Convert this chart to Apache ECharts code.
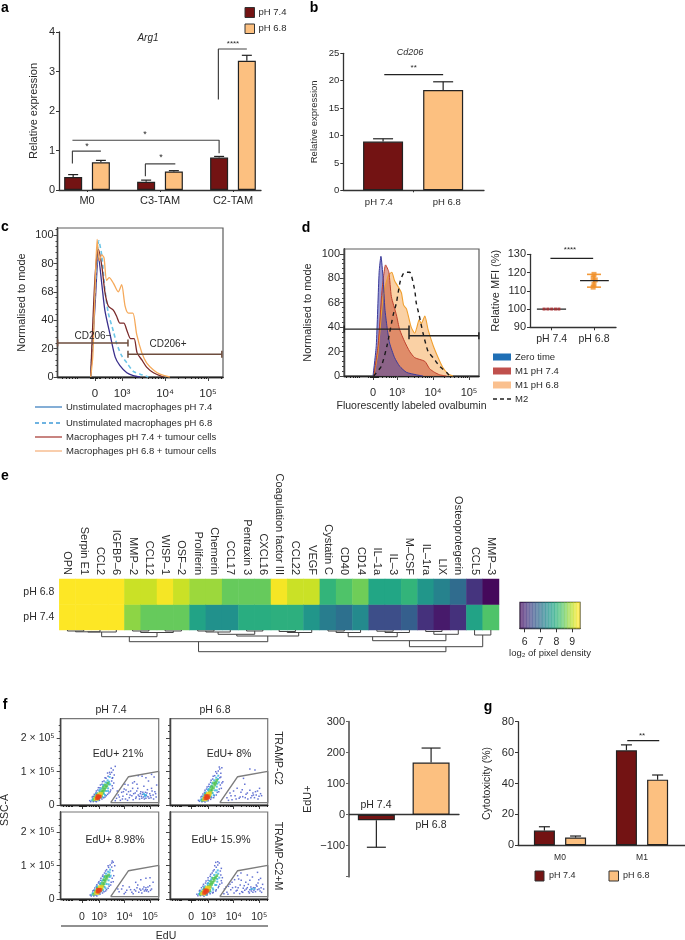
<!DOCTYPE html>
<html><head><meta charset="utf-8">
<style>html,body{margin:0;padding:0;background:#fff}#c{width:685px;height:940px}</style>
<script src="https://cdn.jsdelivr.net/npm/echarts@6/dist/echarts.min.js"></script>
</head><body><div id="c"></div>
<script>
// ---------- DATA ----------
const argCategories=['M0','C3-TAM','C2-TAM'];
const argPh74=[0.33,0.21,0.82];
const argPh68=[0.70,0.47,3.27];
const argPh74Err=[0.39,0.25,0.85];
const argPh68Err=[0.75,0.49,3.41];
const cd206Categories=['pH 7.4','pH 6.8'];
const cd206Values=[8.9,18.3];
const cd206Err=[9.4,19.8];
const cUnstim74=[[-.10,0],[0,50],[.08,85],[.16,65],[.23,47],[.35,30],[.47,14],[.58,8],[.74,3],[.89,1],[1.05,0]];
const cUnstim68=[[-.10,0],[0,60],[.09,96],[.16,85],[.23,62],[.31,45],[.43,32],[.50,24],[.62,15],[.74,10],[.89,4],[1.05,2],[1.24,0]];
const cTumour74=[[-.10,0],[0,70],[.08,90],[.16,78],[.23,60],[.31,50],[.43,47],[.50,43],[.58,38],[.67,38],[.74,33],[.83,27],[.91,27],[.98,17],[1.09,12],[1.20,7],[1.36,3],[1.59,0]];
const cTumour68=[[-.10,0],[-.05,15],[0,60],[.05,97],[.10,82],[.16,86],[.21,84],[.27,68],[.33,70],[.43,66],[.54,60],[.62,65],[.70,50],[.78,45],[.88,45],[.97,30],[1.09,17],[1.20,10],[1.36,5],[1.51,2],[1.74,0]];
const dZero=[[0,0],[.09,25],[.17,85],[.22,98],[.28,80],[.33,55],[.39,40],[.46,27],[.60,15],[.74,8],[.93,3],[1.20,1],[1.39,0]];
const dM174=[[.02,0],[.14,25],[.25,70],[.35,91],[.44,85],[.51,65],[.65,50],[.74,38],[.88,28],[1.02,20],[1.16,15],[1.44,12],[1.57,6],[1.71,3],[1.85,1],[2.04,0]];
const dM168=[[.02,0],[.14,20],[.28,65],[.42,82],[.52,85],[.60,78],[.72,72],[.79,68],[.85,58],[.93,55],[1.06,40],[1.16,35],[1.22,40],[1.28,46],[1.34,43],[1.44,49],[1.53,38],[1.67,25],[1.81,15],[1.94,7],[2.08,2],[2.22,0]];
const dM2=[[.02,0],[.23,8],[.39,25],[.56,50],[.65,60],[.76,78],[.88,85],[1.02,85],[1.16,70],[1.20,60],[1.28,50],[1.39,35],[1.53,20],[1.67,15],[1.85,8],[2.04,3],[2.13,0]];
const mfiPh74=[[.82,100],[.91,100],[1,100],[1.09,100],[1.17,100]];
const mfiPh68=[[2,119],[1.98,117],[2.03,116],[2,113.5],[1.98,112]];
const heatGenes=['OPN','Serpin E1','CCL2','IGFBP–6','MMP–2','CCL12','WISP–1','OSF–2','Proliferin','Chemerin','CCL17','Pentraxin 3','CXCL16','Coagulation factor III','CCL22','VEGF','Cystatin C','CD40','CD14','IL–1a','IL–3','M–CSF','IL–1ra','LIX','Osteoprotegerin','CCL5','MMP–3'];
const heatRows=['pH 7.4','pH 6.8'];
const heatPh68=[9.4,9.4,9.4,9.4,9.1,9.1,9.35,9.1,8.83,8.83,8.5,8.5,8.5,9.35,9.1,9.1,8.07,8.34,8.56,7.84,7.84,8.07,7.58,7.27,6.93,6.17,5.68];
const heatPh74=[9.4,9.4,9.4,9.4,8.75,8.5,8.5,8.5,7.8,7.5,7.5,7.96,7.96,8.0,8.0,7.58,7.2,7.0,7.39,6.5,6.5,6.74,6.13,5.87,6.13,7.8,8.34];
const colorbarSteps=[5.8,6.0,6.2,6.4,6.6,6.8,7.0,7.2,7.4,7.6,7.8,8.0,8.2,8.4,8.6,8.8,9.0,9.2,9.4];
// dendrogram merges: left column, left height, right column, right height, merge height
const dendroMerges=[[0,0,1,0,1],[.5,1,2,0,1.8],[1.25,1.8,3,0,2],[4,0,5,0,1],[6,0,7,0,1],[4.5,1,6.5,1,2.5],[2.1,2,5.5,2.5,6.7],
[8,0,9,0,1],[8.5,1,10,0,2],[11,0,12,0,1],[9.25,2,11.5,1,4.3],[13,0,14,0,1.5],[13.5,1.5,15,0,2.5],[10.4,4.3,14.2,2.5,6],[3.8,6.7,12.3,6,11.7],
[16,0,17,0,1],[16.5,1,18,0,2.5],[19,0,20,0,1.2],[19.5,1.2,21,0,2.5],[17.24,2.5,20.25,2.5,6.7],[22,0,23,0,1.5],[22.5,1.5,24,0,4.3],[18.74,6.7,23.24,4.3,10.7],
[25,0,26,0,5],[21,10.7,25.5,5,16.7],[8.05,11.7,23.24,16.7,21.7]];
const edUGate=[[1.12,.07],[1.82,.85],[3,1.01],[3,.07],[1.12,.07]];
// flow events: channel, SSC (x 10^5), density level
const flowC2Ph74=[[.4,.24,0],[.48,.32,0],[.56,.42,0],[.64,.52,0],[.72,.6,0],[.8,.7,0],[.9,.82,0],[1,.96,0],[1.14,1.1,0],[.56,.1,0],[.68,.14,0],[.78,.18,0],[.9,.24,0],[1,.32,0],[1.1,.4,0],[1.2,.5,0],[1.24,.66,0],[1.18,.8,0],[1.3,.13,0],[1.38,.42,0],[1.46,.24,0],[1.58,.18,0],[1.62,.4,0],[1.68,.62,0],[1.78,.14,0],[1.82,.4,0],[1.88,.3,0],[1.98,.5,0],[2.02,.34,0],[2.1,.2,0],[2.14,.42,0],[2.24,.26,0],[2.28,.34,0],[2.34,.2,0],[2.38,.38,0],[2.44,.18,0],[2.54,.36,0],[2.62,.2,0],[2.68,.28,0],[2.74,.42,0],[2.8,.18,0],[2.88,.34,0],[2.92,.6,0],[2.5,.82,0],[2.2,.88,0],[2.72,.92,0],[1.98,.66,0],[.3,.13,0],[.34,.1,0],[.44,.1,0],[.52,.12,0],[.44,.26,0],[.54,.36,0],[.62,.45,0],[.7,.52,0],[.78,.62,0],[.86,.72,0],[.94,.8,0],[1.02,.86,0],[1.1,.92,0],[1.16,.98,0],[1.22,1.05,0],[1.3,1.16,0],[1.2,.82,0],[1.16,.72,0],[1.18,.58,0],[1.12,.45,0],[1.05,.36,0],[.95,.28,0],[.85,.22,0],[1.08,.98,0],[1.26,.9,0],[1.35,.2,0],[1.42,.3,0],[1.5,.14,0],[1.55,.38,0],[1.6,.26,0],[1.65,.48,0],[1.7,.18,0],[1.75,.32,0],[1.8,.6,0],[1.85,.22,0],[1.9,.42,0],[1.95,.28,0],[2,.16,0],[2.05,.7,0],[2.08,.36,0],[2.12,.24,0],[2.18,.5,0],[2.2,.3,0],[2.25,.18,0],[2.3,.4,0],[2.32,.26,0],[2.36,.32,0],[2.4,.24,0],[2.42,.56,0],[2.45,.3,0],[2.48,.38,0],[2.5,.2,0],[2.52,.28,0],[2.56,.46,0],[2.58,.25,0],[2.6,.72,0],[2.65,.34,0],[2.7,.22,0],[2.72,.5,0],[2.78,.3,0],[2.82,.84,0],[2.85,.4,0],[2.9,.24,0],[1.72,.45,0],[2.15,.62,0],[2.35,.86,0],[2.46,.26,1],[2.42,.33,1],[2.5,.3,1],[1.05,.62,1],[.98,.66,1],[1.02,.42,1],[.9,.3,1],[.8,.24,1],[.66,.18,1],[.56,.34,1],[.7,.46,1],[.82,.56,1],[1.08,.84,1],[.38,.14,1],[.42,.19,1],[.5,.27,1],[.6,.36,1],[.68,.42,1],[.76,.5,1],[.84,.6,1],[.92,.68,1],[1,.74,1],[1.06,.7,1],[1.1,.62,1],[1.02,.5,1],[.94,.42,1],[.86,.34,1],[.72,.22,1],[.62,.14,1],[.46,.15,2],[.5,.22,2],[.58,.3,2],[.72,.37,2],[.8,.36,2],[.84,.42,2],[.88,.47,2],[.78,.43,2],[.93,.53,2],[.97,.58,2],[.9,.6,2],[1.02,.66,2],[.83,.52,2],[.76,.29,2],[.52,.18,3],[.56,.24,3],[.68,.3,3],[.72,.28,3],[.75,.34,3],[.66,.33,3],[.6,.18,3],[.58,.2,4],[.62,.23,4],[.66,.26,4],[.6,.27,4],[.7,.25,4],[.64,.21,4]];
const flowC2Ph68=[[.38,.24,0],[.46,.33,0],[.54,.44,0],[.62,.54,0],[.7,.62,0],[.78,.74,0],[.86,.86,0],[.96,1,0],[1.1,1.14,0],[.54,.09,0],[.66,.13,0],[.76,.17,0],[.88,.22,0],[.98,.3,0],[1.08,.4,0],[1.18,.5,0],[1.2,.66,0],[1.16,.84,0],[1.46,.14,0],[1.56,.28,0],[1.66,.42,0],[1.76,.18,0],[1.92,.24,0],[2.0,.46,0],[2.12,.22,0],[2.2,.36,0],[2.34,.22,0],[2.44,.3,0],[2.52,.4,0],[2.62,.18,0],[2.76,.28,0],[2.68,.5,0],[.28,.14,0],[.32,.11,0],[.42,.1,0],[.5,.12,0],[.42,.26,0],[.52,.38,0],[.6,.48,0],[.68,.56,0],[.76,.68,0],[.84,.78,0],[.92,.88,0],[1,.95,0],[1.06,1.02,0],[1.12,1.08,0],[1.16,.95,0],[1.12,.82,0],[1.14,.6,0],[1.1,.48,0],[1.02,.38,0],[.9,.28,0],[.8,.22,0],[1.2,1.12,0],[1.24,.7,0],[1.4,.22,0],[1.52,.36,0],[1.6,.16,0],[1.72,.28,0],[1.8,.5,0],[1.88,.2,0],[1.95,.38,0],[2.02,.25,0],[2.1,.62,0],[2.15,.32,0],[2.22,.18,0],[2.3,.44,0],[2.38,.28,0],[2.42,.36,0],[2.48,.22,0],[2.55,.3,0],[2.6,.42,0],[2.66,.26,0],[2.72,.34,0],[2.3,1.08,0],[2.5,1.05,0],[2.05,.8,0],[1.02,.64,1],[.96,.7,1],[1,.44,1],[.88,.3,1],[.78,.24,1],[.64,.18,1],[.54,.35,1],[.68,.48,1],[.8,.58,1],[1.06,.88,1],[.36,.14,1],[.4,.18,1],[.48,.28,1],[.58,.38,1],[.66,.45,1],[.74,.54,1],[.82,.65,1],[.9,.74,1],[.98,.82,1],[1.05,.78,1],[1.08,.68,1],[1.0,.55,1],[.93,.44,1],[.84,.36,1],[.7,.23,1],[.6,.13,1],[.44,.14,2],[.49,.21,2],[.56,.31,2],[.7,.39,2],[.78,.38,2],[.82,.46,2],[.87,.52,2],[.76,.46,2],[.92,.6,2],[.96,.66,2],[.88,.66,2],[1.0,.74,2],[.8,.55,2],[.74,.3,2],[.5,.17,3],[.54,.23,3],[.66,.31,3],[.71,.29,3],[.74,.36,3],[.64,.34,3],[.57,.16,3],[.55,.2,4],[.6,.24,4],[.65,.27,4],[.58,.27,4],[.68,.23,4],[.62,.2,4]];
const flowC2MPh74=[[.42,.24,0],[.5,.33,0],[.58,.43,0],[.66,.52,0],[.74,.62,0],[.82,.72,0],[.92,.84,0],[1.02,1,0],[1.18,1.14,0],[.58,.09,0],[.7,.14,0],[.8,.18,0],[.92,.24,0],[1.02,.32,0],[1.12,.42,0],[1.22,.52,0],[1.24,.7,0],[1.16,.96,0],[1.4,.3,0],[1.6,.4,0],[1.7,.2,0],[1.9,.28,0],[2.0,.16,0],[2.1,.24,0],[2.18,.42,0],[2.26,.3,0],[2.34,.18,0],[2.42,.36,0],[2.48,.28,0],[2.52,.24,0],[2.58,.36,0],[2.68,.26,0],[2.78,.5,0],[.32,.12,0],[.36,.09,0],[.46,.09,0],[.54,.12,0],[.46,.26,0],[.56,.38,0],[.64,.48,0],[.72,.56,0],[.8,.68,0],[.88,.78,0],[.96,.88,0],[1.04,.95,0],[1.1,1.02,0],[1.16,1.08,0],[1.22,1.1,0],[1.28,1.0,0],[1.2,.85,0],[1.18,.62,0],[1.14,.5,0],[1.06,.38,0],[.96,.28,0],[.86,.22,0],[1.45,.22,0],[1.55,.3,0],[1.65,.16,0],[1.75,.26,0],[1.85,.36,0],[1.95,.2,0],[2.05,.28,0],[2.15,.34,0],[2.22,.2,0],[2.3,.26,0],[2.38,.3,0],[2.44,.24,0],[2.5,.34,0],[2.55,.28,0],[2.6,.22,0],[2.65,.4,0],[2.72,.3,0],[2.3,.58,0],[2.5,.62,0],[2.66,.64,0],[2.1,.5,0],[1.08,.66,1],[1,.7,1],[1.04,.44,1],[.92,.32,1],[.82,.26,1],[.68,.18,1],[.58,.36,1],[.72,.48,1],[.84,.58,1],[1.1,.88,1],[.38,.13,1],[.42,.18,1],[.5,.27,1],[.6,.38,1],[.7,.45,1],[.78,.55,1],[.86,.66,1],[.94,.76,1],[1.02,.82,1],[1.08,.8,1],[1.12,.7,1],[1.04,.56,1],[.96,.45,1],[.88,.36,1],[.74,.23,1],[.64,.14,1],[.46,.14,2],[.52,.22,2],[.6,.32,2],[.74,.4,2],[.82,.4,2],[.86,.46,2],[.9,.53,2],[.8,.48,2],[.95,.6,2],[.98,.66,2],[.92,.68,2],[1.04,.72,2],[.86,.58,2],[.78,.31,2],[.54,.18,3],[.58,.25,3],[.7,.33,3],[.74,.3,3],[.78,.37,3],[.68,.36,3],[.62,.17,3],[.6,.22,4],[.64,.25,4],[.68,.28,4],[.62,.28,4],[.72,.27,4],[.66,.22,4]];
const flowC2MPh68=[[.32,.24,0],[.4,.34,0],[.48,.44,0],[.58,.54,0],[.66,.64,0],[.76,.74,0],[.86,.84,0],[.92,1,0],[1.04,1.12,0],[.5,.08,0],[.62,.12,0],[.74,.16,0],[.86,.2,0],[.98,.28,0],[1.08,.38,0],[1.2,.48,0],[1.22,.64,0],[1.14,.84,0],[1.28,.16,0],[1.36,.36,0],[1.44,.14,0],[1.52,.44,0],[1.62,.34,0],[1.7,.58,0],[1.76,.24,0],[1.84,.34,0],[1.9,.16,0],[1.96,.56,0],[2.02,.2,0],[2.08,.4,0],[2.16,.3,0],[2.24,.44,0],[2.28,.18,0],[2.36,.24,0],[2.44,.34,0],[2.52,.22,0],[2.58,.38,0],[2.66,.3,0],[2.76,.2,0],[2.84,.3,0],[2.62,.48,0],[2.3,.56,0],[1.82,.7,0],[2.72,.62,0],[.22,.14,0],[.26,.1,0],[.36,.1,0],[.46,.11,0],[.34,.26,0],[.46,.38,0],[.56,.48,0],[.66,.56,0],[.74,.68,0],[.82,.78,0],[.9,.88,0],[.98,.95,0],[1.04,1.02,0],[1.1,1.08,0],[.96,1.1,0],[1.18,.92,0],[1.16,.72,0],[1.18,.55,0],[1.12,.44,0],[1.06,.34,0],[.96,.24,0],[.84,.18,0],[1.3,.3,0],[1.4,.2,0],[1.46,.38,0],[1.55,.28,0],[1.6,.5,0],[1.68,.18,0],[1.74,.36,0],[1.8,.26,0],[1.86,.6,0],[1.92,.42,0],[1.98,.22,0],[2.04,.32,0],[2.1,.26,0],[2.14,.5,0],[2.2,.34,0],[2.25,.22,0],[2.3,.28,0],[2.34,.36,0],[2.38,.3,0],[2.42,.2,0],[2.46,.26,0],[2.5,.34,0],[2.55,.42,0],[2.6,.28,0],[2.65,.58,0],[2.7,.24,0],[2.74,.34,0],[2.8,.44,0],[2.4,.66,0],[2.2,.72,0],[1.95,.78,0],[2.6,.8,0],[2.36,.3,1],[2.48,.3,1],[1.02,.6,1],[.94,.64,1],[.98,.42,1],[.86,.28,1],[.76,.22,1],[.62,.16,1],[.5,.34,1],[.66,.48,1],[.78,.58,1],[1.04,.86,1],[.3,.15,1],[.34,.2,1],[.44,.28,1],[.54,.38,1],[.64,.45,1],[.72,.54,1],[.8,.64,1],[.9,.72,1],[.98,.8,1],[1.06,.76,1],[1.1,.64,1],[1.02,.52,1],[.94,.42,1],[.84,.32,1],[.7,.2,1],[.58,.12,1],[.36,.14,2],[.42,.21,2],[.52,.3,2],[.66,.38,2],[.75,.36,2],[.8,.44,2],[.85,.5,2],[.74,.44,2],[.9,.56,2],[.95,.64,2],[.86,.62,2],[1,.7,2],[.78,.52,2],[.72,.26,2],[.42,.16,3],[.48,.22,3],[.62,.31,3],[.68,.28,3],[.7,.35,3],[.6,.34,3],[.52,.15,3],[.5,.18,4],[.55,.22,4],[.6,.26,4],[.54,.26,4],[.64,.24,4],[.58,.19,4]];
const eduCategories=['pH 7.4','pH 6.8'];
const eduValues=[-18,168];
const eduErr=[-105,215];
const cytoCategories=['M0','M1'];
const cytoPh74=[9.5,61.5];
const cytoPh68=[5,42.5];
const cytoPh74Err=[12,65];
const cytoPh68Err=[6,45.5];

// ---------- HELPERS ----------
const FONT='"Liberation Sans",Arial,sans-serif';
const MAROON='#731313',PEACH='#fcc080',EDGE='#222',AX='#333',TXT='#2a2a2a';
const grid=[],xAxis=[],yAxis=[],series=[],graphic=[];
function addGrid(r,frame){grid.push({left:r[0],top:r[1],width:r[2]-r[0],height:r[3]-r[1],show:!!frame,borderColor:'#5c5c5c',borderWidth:frame?1.2:0,backgroundColor:'transparent',containLabel:false});return grid.length-1;}
function valAxis(list,g,o){
  const labelAt=o.labelAt||[],labels=o.labels||[];
  const a={type:'value',gridIndex:g,min:o.min,max:o.max,inverse:!!o.inverse,splitLine:{show:false},position:o.position||(list===yAxis?'left':'bottom'),
    axisLine:{show:o.line!==false,onZero:!!o.onZero,lineStyle:{color:o.lineColor||AX,width:o.lineWidth||1.3}},
    axisTick:{show:!!(o.ticks&&o.ticks.length),customValues:o.ticks||[],length:o.tickLen||3,lineStyle:{color:o.lineColor||AX,width:1}},
    axisLabel:{show:labelAt.length>0,customValues:labelAt,margin:o.margin||4,fontSize:o.size||11,color:TXT,fontFamily:FONT,hideOverlap:false,
      formatter:v=>{let b=0;labelAt.forEach((p,i)=>{if(Math.abs(p-v)<Math.abs(labelAt[b]-v))b=i;});return labels[b];}},
    axisPointer:{show:false},silent:true};
  if(o.name){a.name=o.name;a.nameLocation='middle';a.nameGap=o.nameGap;a.nameTextStyle={fontSize:o.nameSize||11,color:TXT,fontFamily:FONT};}
  list.push(a);return list.length-1;
}
function hidden(list,g,min,max,inv){return valAxis(list,g,{min,max,line:false,inverse:inv});}
function bars(x,y,pts,color,w){series.push({type:'bar',xAxisIndex:x,yAxisIndex:y,data:pts,barWidth:w,barGap:'-100%',silent:true,z:3,itemStyle:{color,borderColor:EDGE,borderWidth:1.2}});}
function whiskers(x,y,rows,capPx,color,width){series.push({type:'custom',xAxisIndex:x,yAxisIndex:y,silent:true,z:2,clip:false,data:rows,encode:{x:0,y:[1,2]},
  renderItem:(p,api)=>{const v=api.value(0),a=api.coord([v,api.value(1)]),b=api.coord([v,api.value(2)]);const st={stroke:color||EDGE,lineWidth:width||1.2};
    return {type:'group',children:[{type:'line',shape:{x1:a[0],y1:a[1],x2:b[0],y2:b[1]},style:st},{type:'line',shape:{x1:b[0]-capPx,y1:b[1],x2:b[0]+capPx,y2:b[1]},style:st}]};}});}
function path(x,y,pts,color,width,extra){series.push(Object.assign({type:'line',xAxisIndex:x,yAxisIndex:y,data:pts,silent:true,symbol:'none',clip:false,z:4,lineStyle:{color,width:width||1.2}},extra||{}));}
function gate(x,y,pts,color){path(x,y,pts,color,1.4,{symbol:'rect',symbolSize:[1.5,7],showSymbol:true,showAllSymbol:true,itemStyle:{color}});}
function txt(x,y,text,o){o=o||{};graphic.push({type:'text',x,y,rotation:o.rot||0,silent:true,z:20,style:{text,x:0,y:0,align:o.align||'center',verticalAlign:'middle',fill:o.color||TXT,
  font:(o.italic?'italic ':'')+(o.bold?'bold ':'')+(o.size||10)+'px '+FONT}});}
function swatch(x,y,w,h,color,border){graphic.push({type:'rect',silent:true,z:20,shape:{x,y,width:w,height:h},style:{fill:color,stroke:border||EDGE,lineWidth:border===null?0:1}});}
function stroke(x1,x2,y,color,dash,width){graphic.push({type:'line',silent:true,z:20,shape:{x1,y1:y,x2,y2:y},style:{stroke:color,lineDash:dash||null,lineWidth:width||1.4}});}
const logSteps=[.3,.48,.6,.7,.78,.85,.9,.95];
function minorTicks(first,last){const out=[];for(let d=first;d<last;d+=1){logSteps.forEach(s=>{if(d+s<last)out.push(d+s);});}return out;}
const ZERO_BLOB=[-.12,-.09,-.06,-.03,0,.03,.06,.09,.12];
function flowXAxes(g,min,max,d3,withLabels,size,extra){
  const maj=[0,d3,d3+1,d3+2];
  const x=valAxis(xAxis,g,Object.assign({min,max,ticks:maj,tickLen:4,position:'bottom',lineColor:'#444',labelAt:withLabels?maj:[],labels:['0','10³','10⁴','10⁵'],size,margin:withLabels===2?13:11},extra||{}));
  valAxis(xAxis,g,{min,max,ticks:minorTicks(d3-2,d3+3).filter(v=>v>min).concat(ZERO_BLOB),tickLen:2,position:'bottom',lineColor:'#222'});
  return x;
}

// ---------- PANEL a ----------
{
 const g=addGrid([59,32,261,190]);
 const x=valAxis(xAxis,g,{min:.616,max:3.384,ticks:[1,2,3],tickLen:2,labelAt:[1,2,3],labels:argCategories,size:11,margin:5});
 const y=valAxis(yAxis,g,{min:0,max:4,ticks:[0,1,2,3,4],labelAt:[0,1,2,3,4],labels:['0','1','2','3','4'],size:11,name:'Relative expression',nameGap:20,nameSize:11});
 const X74=argPh74.map((_,i)=>i+1-.19),X68=argPh68.map((_,i)=>i+1+.19);
 bars(x,y,argPh74.map((v,i)=>[X74[i],v]),MAROON,18);
 bars(x,y,argPh68.map((v,i)=>[X68[i],v]),PEACH,18);
 whiskers(x,y,argPh74.map((v,i)=>[X74[i],v,argPh74Err[i]]),5);
 whiskers(x,y,argPh68.map((v,i)=>[X68[i],v,argPh68Err[i]]),5);
 path(x,y,[[.8,.67],[.8,.985],[1.19,.985]],'#444',1.2);
 path(x,y,[[1.8,.35],[1.8,.66],[2.21,.66]],'#444',1.2);
 path(x,y,[[.8,1.26],[2.81,1.26],[2.81,.93]],'#444',1.2);
 path(x,y,[[2.8,2.29],[2.8,3.57],[3.19,3.57]],'#444',1.2);
 txt(87,147,'*',{size:9});txt(161,158,'*',{size:9});txt(145,135,'*',{size:9});txt(233,44,'****',{size:8});
 txt(148,38,'Arg1',{italic:true,size:10});
 swatch(245,7.5,9.5,10,MAROON,'#333');swatch(245,24,9.5,9.5,PEACH,'#333');
 txt(258.5,12,'pH 7.4',{align:'left',size:9.5});txt(258.5,28,'pH 6.8',{align:'left',size:9.5});
 txt(5,8,'a',{bold:true,size:14,color:'#000'});
}
// ---------- PANEL b ----------
{
 const g=addGrid([343.3,53.3,484,190.3]);
 const x=valAxis(xAxis,g,{min:.338,max:2.68,ticks:[1.5],tickLen:2,labelAt:[.93,2.06],labels:cd206Categories,size:9.5,margin:7});
 const y=valAxis(yAxis,g,{min:0,max:25,ticks:[0,5,10,15,20,25],labelAt:[0,5,10,15,20,25],labels:['0','5','10','15','20','25'],size:9.5,name:'Relative expression',nameGap:24,nameSize:9.5});
 bars(x,y,cd206Values.map((v,i)=>[i+1,v]),MAROON,40);
 series[series.length-1].data=[{value:[1,cd206Values[0]]},{value:[2,cd206Values[1]],itemStyle:{color:PEACH,borderColor:EDGE,borderWidth:1.2}}];
 whiskers(x,y,cd206Values.map((v,i)=>[i+1,v,cd206Err[i]]),10);
 path(x,y,[[1.02,21.1],[2,21.1]],'#222',1.2);
 txt(413.7,68,'**',{size:8});txt(410,52.5,'Cd206',{italic:true,size:9});
 txt(314,8,'b',{bold:true,size:14,color:'#000'});
}
// ---------- PANEL c ----------
{
 const g=addGrid([57.5,228,223,377],true);
 const x=flowXAxes(g,-.872,2.977,.63,1,11.5);
 const y=valAxis(yAxis,g,{min:0,max:105,ticks:[0,20,40,60,80,100],tickLen:4,labelAt:[0,20,40,60,80,100],labels:['0','20','40','68','80','100'],size:11,name:'Normalised to mode',nameGap:30,nameSize:11,lineColor:'#444'});
 valAxis(yAxis,g,{min:0,max:105,ticks:[4,8,12,16,24,28,32,36,44,48,52,56,64,68,72,76,84,88,92,96,104],tickLen:2,lineColor:'#444'});
 const sm={smooth:.25};
 path(x,y,cUnstim74,'#3a2f8c',1.3,sm);
 path(x,y,cUnstim68,'#6cc5e8',1.5,Object.assign({lineStyle:{color:'#6cc5e8',width:1.6,type:[4,3]}},sm));
 path(x,y,cTumour74,'#7a2a2a',1.3,sm);
 path(x,y,cTumour68,'#f5a95a',1.3,sm);
 gate(x,y,[[-.87,24],[.767,24]],'#6d4c3d');
 gate(x,y,[[.767,16],[2.95,16]],'#6d4c3d');
 txt(93,336,'CD206−',{size:10});txt(168,344,'CD206+',{size:10});
 const rows=[['Unstimulated macrophages pH 7.4','#4f8cc4',null,407],['Unstimulated macrophages pH 6.8','#3f9ad8',[4,3],423],['Macrophages pH 7.4 + tumour cells','#b0504a',null,437],['Macrophages pH 6.8 + tumour cells','#f7b98a',null,451]];
 rows.forEach(r=>{stroke(35,62,r[3],r[1],r[2]);txt(66,r[3],r[0],{align:'left',size:9.5});});
 txt(5,227,'c',{bold:true,size:14,color:'#000'});
}
// ---------- PANEL d ----------
{
 const g=addGrid([344,249,479,376],true);
 const x=flowXAxes(g,-.806,2.944,.667,1,11,{name:'Fluorescently labeled ovalbumin',nameGap:25,nameSize:10.5});
 const y=valAxis(yAxis,g,{min:0,max:104,ticks:[0,20,40,60,80,100],tickLen:4,labelAt:[0,20,40,60,80,100],labels:['0','20','40','68','80','100'],size:11,name:'Normalised to mode',nameGap:31,nameSize:11,lineColor:'#444'});
 valAxis(yAxis,g,{min:0,max:104,ticks:[4,8,12,16,24,28,32,36,44,48,52,56,64,68,72,76,84,88,92,96],tickLen:2,lineColor:'#444'});
 const area=(c,o)=>({smooth:.2,areaStyle:{color:c,opacity:o},z:3});
 path(x,y,dM168,'#f0a030',1.1,area('#f9c58f',.8));
 path(x,y,dM174,'#c0402c',1,area('#c4482e',.5));
 path(x,y,dZero,'#3a3a9a',1,area('#3a3aa8',.5));
 path(x,y,dM2,'#1a1a1a',1.4,{smooth:.2,lineStyle:{color:'#1a1a1a',width:1.4,type:[4,4]}});
 gate(x,y,[[-.8,38.4],[1.0,38.4]],'#222');
 gate(x,y,[[1.0,33],[2.94,33]],'#222');
 swatch(493,353.5,18,7,'#1f6fb5',null);swatch(493,367.5,18,7,'#c0504d',null);swatch(493,381.5,18,7,'#fac08f',null);
 txt(515,357,'Zero time',{align:'left',size:9.5});txt(515,371,'M1 pH 7.4',{align:'left',size:9.5});txt(515,385,'M1 pH 6.8',{align:'left',size:9.5});
 stroke(493,511,399,'#222',[4,3],1.3);txt(515,399,'M2',{align:'left',size:9.5});
 txt(306,228,'d',{bold:true,size:14,color:'#000'});
}
// ---------- PANEL d right ----------
{
 const g=addGrid([530,254.3,616,327.3]);
 const x=valAxis(xAxis,g,{min:.487,max:2.52,ticks:[1,2],tickLen:3,labelAt:[1,2],labels:['pH 7.4','pH 6.8'],size:10.5,margin:6});
 const y=valAxis(yAxis,g,{min:90,max:130,ticks:[90,100,110,120,130],labelAt:[90,100,110,120,130],labels:['90','100','110','120','130'],size:11,name:'Relative MFI (%)',nameGap:29,nameSize:11});
 path(x,y,[[.97,127.8],[1.98,127.8]],'#222',1.2);
 txt(570,250,'****',{size:8});
 whiskers(x,y,[[2,115.6,119],[2,115.6,112]],7,'#f39a3a',1.6);
 path(x,y,[[.65,100],[1.34,100]],'#222',1.3);
 path(x,y,[[1.67,115.6],[2.35,115.6]],'#222',1.4);
 series.push({type:'scatter',xAxisIndex:x,yAxisIndex:y,data:mfiPh74,symbol:'rect',symbolSize:3,silent:true,z:5,itemStyle:{color:'#a8282a'}});
 series.push({type:'scatter',xAxisIndex:x,yAxisIndex:y,data:mfiPh68,symbol:'rect',symbolSize:5,silent:true,z:3,itemStyle:{color:'#f0902a'}});
}
// ---------- PANEL e ----------
const VIRIDIS=['#440154','#482475','#414487','#355f8d','#2a788e','#21918c','#22a884','#44bf70','#7ad151','#bddf26','#fde725'];
let heatIdx,barIdx;
{
 const g=addGrid([59.3,579,499,630]);
 xAxis.push({type:'category',gridIndex:g,position:'top',data:heatGenes,axisLine:{show:false},axisTick:{show:false},splitLine:{show:false},silent:true,
   axisLabel:{interval:0,rotate:90,margin:4,fontSize:11,color:TXT,fontFamily:FONT,hideOverlap:false}});
 yAxis.push({type:'category',gridIndex:g,data:heatRows,axisLine:{show:false},axisTick:{show:false},splitLine:{show:false},silent:true,
   axisLabel:{margin:5,fontSize:10.5,color:TXT,fontFamily:FONT}});
 const data=[];
 heatGenes.forEach((_,i)=>{data.push([i,0,heatPh74[i]]);data.push([i,1,heatPh68[i]]);});
 series.push({type:'heatmap',xAxisIndex:xAxis.length-1,yAxisIndex:yAxis.length-1,data,silent:true,emphasis:{disabled:true},progressive:0});
 heatIdx=series.length-1;
 const d=addGrid([59.3,630,499,668]);
 const dx=hidden(xAxis,d,-.5,26.5),dy=hidden(yAxis,d,0,38,true);
 series.push({type:'custom',xAxisIndex:dx,yAxisIndex:dy,silent:true,clip:false,data:dendroMerges,encode:{x:[0,2],y:[1,3,4]},
  renderItem:(p,api)=>{const a=api.coord([api.value(0),api.value(1)]),b=api.coord([api.value(0),api.value(4)]),c=api.coord([api.value(2),api.value(4)]),e=api.coord([api.value(2),api.value(3)]);
   return {type:'polyline',shape:{points:[a,b,c,e]},style:{fill:null,stroke:'#444',lineWidth:1}};}});
 const b=addGrid([520,602.3,580,628.3],true);
 grid[b].borderColor='#333';
 xAxis.push({type:'category',gridIndex:b,data:colorbarSteps.map(String),show:false,silent:true});
 yAxis.push({type:'category',gridIndex:b,data:['scale'],show:false,silent:true});
 const bx=xAxis.length-1,by=yAxis.length-1;
 valAxis(xAxis,b,{min:5.7,max:9.5,ticks:[6,7,8,9],tickLen:4,labelAt:[6,7,8,9],labels:['6','7','8','9'],size:10.5,margin:8,position:'bottom',lineColor:'#333'});
 series.push({type:'heatmap',xAxisIndex:bx,yAxisIndex:by,data:colorbarSteps.map((v,i)=>[i,0,v]),silent:true,itemStyle:{opacity:.68},emphasis:{disabled:true},progressive:0});
 barIdx=series.length-1;
 txt(550,653,'log₂ of pixel density',{size:9.5});
 txt(5,476,'e',{bold:true,size:14,color:'#000'});
}
// ---------- PANEL f scatter ----------
const LEVELS=['#3d50c8','#35b0e0','#4cc24c','#f0d020','#e8401c'];
{
 const cols=[[60.7,158.7],[170,267.7]],rows=[[718.7,805],[812,899]];
 const sets=[[flowC2Ph74,flowC2Ph68],[flowC2MPh74,flowC2MPh68]];
 rows.forEach((r,ri)=>cols.forEach((c,ci)=>{
  const g=addGrid([c[0],r[0],c[1],r[1]],true);
  grid[g].borderColor='#777';
  const x=flowXAxes(g,-.835,3.0,.667,ri===1?2:0,10.5);
  const labelled=ci===0;
  const ymax=(r[1]-r[0])/33.3;
  const y=valAxis(yAxis,g,{min:0,max:ymax,ticks:[0,1,2],tickLen:4,labelAt:labelled?[0,1,2]:[],labels:['0','1 × 10⁵','2 × 10⁵'],size:10.5,margin:6,lineColor:'#444'});
  valAxis(yAxis,g,{min:0,max:ymax,ticks:[.2,.4,.6,.8,1.2,1.4,1.6,1.8,2.2,2.4],tickLen:2,lineColor:'#444'});
  series.push({type:'scatter',xAxisIndex:x,yAxisIndex:y,data:sets[ri][ci],silent:true,z:3,symbol:'rect',
    symbolSize:d=>[1.5,2,2.8,3.2,3.5][d[2]],itemStyle:{color:p=>LEVELS[p.data[2]]},large:false});
  path(x,y,edUGate,'#7d7d7d',1.4);
 }));
 txt(111,710,'pH 7.4',{size:10.5});txt(215,710,'pH 6.8',{size:10.5});
 txt(118,754,'EdU+ 21%',{size:10.5});txt(229,754,'EdU+ 8%',{size:10.5});
 txt(115,840,'EdU+ 8.98%',{size:10.5});txt(221,840,'EdU+ 15.9%',{size:10.5});
 txt(278,758,'TRAMP-C2',{size:10.5,rot:-Math.PI/2});txt(278,856,'TRAMP-C2+M',{size:10.5,rot:-Math.PI/2});
 txt(5,810,'SSC-A',{size:10.5,rot:Math.PI/2});
 stroke(61,268,926,'#222',null,1.2);
 txt(166,936,'EdU',{size:10.5});
 txt(5,705,'f',{bold:true,size:14,color:'#000'});
}
// ---------- PANEL f bars ----------
{
 const g=addGrid([349,721.7,459,876.7]);
 const x=valAxis(xAxis,g,{min:.5,max:2.51,onZero:true,lineColor:'#333'});
 const y=valAxis(yAxis,g,{min:-200,max:300,ticks:[-200,-100,0,100,200,300],labelAt:[-100,0,100,200,300],labels:['−100','0','100','200','300'],size:11,lineColor:'#666',lineWidth:1.8,name:'EdU+',nameGap:36,nameSize:11});
 bars(x,y,[[1,eduValues[0]]],MAROON,37);bars(x,y,[[2,eduValues[1]]],PEACH,37);
 whiskers(x,y,eduValues.map((v,i)=>[i+1,v,eduErr[i]]),9.5);
 txt(376,805,eduCategories[0],{size:10.5});txt(431,825,eduCategories[1],{size:10.5});
}
// ---------- PANEL g ----------
{
 const g=addGrid([518,721.7,685,845.3]);
 const x=valAxis(xAxis,g,{min:.488,max:2.524,labelAt:[1,2],labels:cytoCategories,size:8.5,margin:8});
 const y=valAxis(yAxis,g,{min:0,max:80,ticks:[0,20,40,60,80],labelAt:[0,20,40,60,80],labels:['0','20','40','60','80'],size:11,name:'Cytotoxicity (%)',nameGap:25,nameSize:10.5});
 bars(x,y,cytoPh74.map((v,i)=>[i+1-.19,v]),MAROON,21);
 bars(x,y,cytoPh68.map((v,i)=>[i+1+.19,v]),PEACH,21);
 whiskers(x,y,cytoPh74.map((v,i)=>[i+1-.19,v,cytoPh74Err[i]]),5.5);
 whiskers(x,y,cytoPh68.map((v,i)=>[i+1+.19,v,cytoPh68Err[i]]),5.5);
 path(x,y,[[1.82,67.8],[2.21,67.8]],'#222',1.2);
 txt(642,736,'**',{size:8});
 swatch(535,871,9,10,MAROON,'#333');swatch(609,871,9.5,10,PEACH,'#333');
 txt(549,876,'pH 7.4',{align:'left',size:9});txt(623,876,'pH 6.8',{align:'left',size:9});
 txt(488,707,'g',{bold:true,size:14,color:'#000'});
}

const chart=echarts.init(document.getElementById('c'),null,{renderer:'canvas'});
chart.setOption({animation:false,backgroundColor:'#fff',textStyle:{fontFamily:FONT},grid,xAxis,yAxis,series,graphic:{elements:graphic},
 visualMap:[{type:'continuous',show:false,min:5.6,max:9.4,dimension:2,seriesIndex:[heatIdx,barIdx],inRange:{color:VIRIDIS}}]});
</script></body></html>
